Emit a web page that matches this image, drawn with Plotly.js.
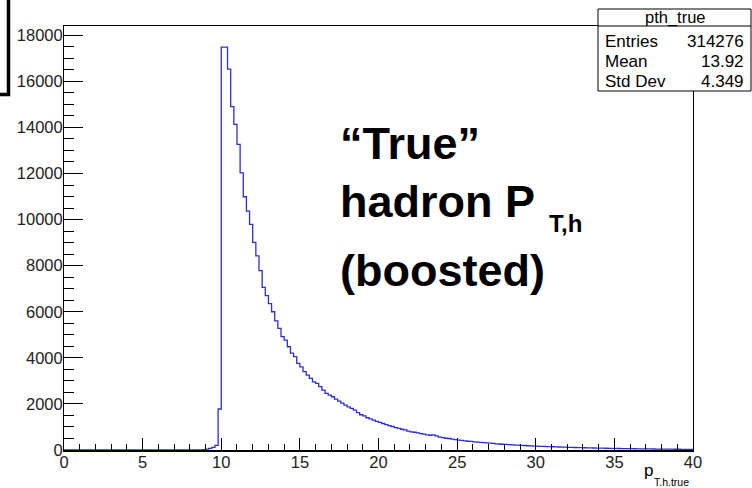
<!DOCTYPE html>
<html>
<head>
<meta charset="utf-8">
<script src="https://cdn.plot.ly/plotly-3.0.1.min.js"></script>
<style>html,body{margin:0;padding:0;background:#fff;}#chart{width:752px;height:488px;}</style>
</head>
<body>
<div id="chart"></div>
<script>
const binLow = 0;
const binWidth = 0.2;
const counts = [
  0,0,0,0,0,0,0,0,0,0,            // 0.0 - 1.8
  0,0,0,0,0,0,0,0,0,0,            // 2.0 - 3.8
  0,0,0,0,0,0,0,0,0,0,            // 4.0 - 5.8
  0,0,0,0,0,0,0,0,0,0,            // 6.0 - 7.8
  0,0,0,                          // 8.0 - 8.4
  5,15,40,70,110,200,1780,        // 8.6 - 9.8
  17480,17480,16530,14900,14130,13260,12030,10990,10370,9790,   // 10.0 - 11.8
  9010,8420,7780,7060,6700,6350,6000,5600,5280,4920,            // 12.0 - 13.8
  4770,4480,4200,4050,3760,3610,3400,3250,3110,2960,            // 14.0 - 15.8
  2890,2750,2600,2460,2380,2310,2210,2120,2030,1950,            // 16.0 - 17.8
  1870,1810,1730,1620,1530,1480,1400,1350,1300,1240,            // 18.0 - 19.8
  1200,1150,1100,1060,1020,970,940,900,870,820,                 // 20.0 - 21.8
  790,770,740,710,690,660,640,660,610,560,                      // 22.0 - 23.8
  540,510,500,470,450,430,420,400,380,370,                      // 24.0 - 25.8
  355,340,330,320,305,295,285,270,260,250,                      // 26.0 - 27.8
  245,235,225,215,210,200,195,185,180,172,                      // 28.0 - 29.8
  168,160,155,150,145,140,135,130,126,122,                      // 30.0 - 31.8
  118,112,108,104,100,97,93,90,86,84,                           // 32.0 - 33.8
  80,78,75,72,70,67,65,62,60,58,                                // 34.0 - 35.8
  56,54,52,50,48,46,45,43,41,40,                                // 36.0 - 37.8
  38,37,36,34,33,32,31,30,29,28                                 // 38.0 - 39.8
];
const histName = "pth_true";
const statLabels = ["Entries", "Mean", "Std Dev"];
const statValues = ["314276", "13.92", "4.349"];
const xTickVals = [0,5,10,15,20,25,30,35,40];
const yTickVals = [0,2000,4000,6000,8000,10000,12000,14000,16000,18000];

// ---- build step histogram ----
const xs = [], ys = [];
for (let i = 0; i < counts.length; i++) { xs.push(binLow + i*binWidth); ys.push(counts[i]); }
xs.push(binLow + counts.length*binWidth); ys.push(counts[counts.length-1]);

// plot area in pixels
const L = 64, R = 693, T = 26, B = 450, W = 752, H = 488;
const px = x => (x - L) / (R - L);
const py = y => (B - y) / (B - T);

const font = "Liberation Sans, Arial, Helvetica, sans-serif";
const ann = [];
// big label
ann.push({text:"<b>\u201CTrue\u201D</b>", x:px(338), y:py(143), xanchor:"left", yanchor:"middle"});
ann.push({text:"<b>hadron P</b>", x:px(338), y:py(201), xanchor:"left", yanchor:"middle"});
ann.push({text:"<b>(boosted)</b>", x:px(338), y:py(270), xanchor:"left", yanchor:"middle"});
ann.forEach(a => { a.xref="paper"; a.yref="paper"; a.showarrow=false; a.font={family:font, size:45, color:"#000"}; });
ann.push({text:"<b>T,h</b>", x:px(547), y:py(224), xanchor:"left", yanchor:"middle", xref:"paper", yref:"paper", showarrow:false, font:{family:font, size:24, color:"#000"}});
// x title
ann.push({text:"p", x:px(642), y:py(470), xanchor:"left", yanchor:"middle", xref:"paper", yref:"paper", showarrow:false, font:{family:font, size:17, color:"#000"}});
ann.push({text:"T.h.true", x:px(652), y:py(481.5), xanchor:"left", yanchor:"middle", xref:"paper", yref:"paper", showarrow:false, font:{family:font, size:10.5, color:"#000"}});
// stats box text
ann.push({text:histName, x:px(675), y:py(17.5), xanchor:"center", yanchor:"middle", xref:"paper", yref:"paper", showarrow:false, font:{family:font, size:16.5, color:"#000"}});
const rowY = [41.5, 61.5, 81.5];
for (let i = 0; i < statLabels.length; i++) {
  ann.push({text:statLabels[i], x:px(603), y:py(rowY[i]), xanchor:"left", yanchor:"middle", xref:"paper", yref:"paper", showarrow:false, font:{family:font, size:17, color:"#000"}});
  ann.push({text:statValues[i], x:px(746), y:py(rowY[i]), xanchor:"right", yanchor:"middle", xref:"paper", yref:"paper", showarrow:false, font:{family:font, size:17, color:"#000"}});
}

const shapes = [
  // stats box
  {type:"rect", xref:"paper", yref:"paper", x0:px(598), x1:px(751), y0:py(9), y1:py(91), line:{color:"#000", width:1}, fillcolor:"#fff", layer:"above"},
  {type:"line", xref:"paper", yref:"paper", x0:px(598), x1:px(751), y0:py(26), y1:py(26), line:{color:"#000", width:1}, layer:"above"},
  // bracket at top-left
  {type:"path", xref:"paper", yref:"paper", path:`M ${px(8.5)} ${py(-2)} L ${px(8.5)} ${py(94.5)} L ${px(-2)} ${py(94.5)}`, line:{color:"#000", width:3.5}}
];

const trace = {
  x: xs, y: ys, type:"scatter", mode:"lines",
  line:{shape:"hv", color:"#2f2fcc", width:1.3},
  hoverinfo:"skip", showlegend:false, cliponaxis:true
};

const layout = {
  width: W, height: H,
  margin:{l:L, r:W-R, t:T, b:H-B, pad:0},
  paper_bgcolor:"#fff", plot_bgcolor:"#fff",
  showlegend:false,
  font:{family:font, size:16, color:"#000"},
  xaxis:{
    range:[0,40], tickvals:xTickVals, ticktext:xTickVals.map(String),
    ticks:"inside", ticklen:12, tickwidth:1, tickcolor:"#000",
    minor:{dtick:1, tick0:0, ticks:"inside", ticklen:6, tickcolor:"#000", tickwidth:1, showgrid:false},
    showline:true, linecolor:"#000", linewidth:1.5, mirror:true,
    showgrid:false, zeroline:false, tickfont:{family:font, size:16.5, color:"#222"},
    ticklabelstandoff:-3
  },
  yaxis:{
    range:[0,18400], tickvals:yTickVals, ticktext:yTickVals.map(String),
    ticks:"inside", ticklen:19, tickwidth:1, tickcolor:"#000",
    minor:{dtick:500, tick0:0, ticks:"inside", ticklen:10, tickcolor:"#000", tickwidth:1, showgrid:false},
    showline:true, linecolor:"#000", linewidth:1, mirror:true,
    showgrid:false, zeroline:false, tickfont:{family:font, size:16.5, color:"#222"},
    ticklabelstandoff:-3
  },
  annotations: ann,
  shapes: shapes
};

Plotly.newPlot("chart", [trace], layout, {staticPlot:true, displayModeBar:false});
</script>
</body>
</html>
